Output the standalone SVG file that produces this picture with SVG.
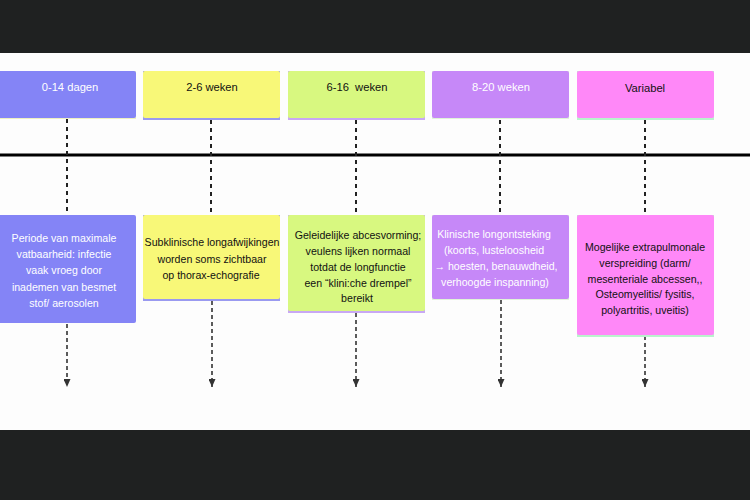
<svg xmlns="http://www.w3.org/2000/svg" width="750" height="500" viewBox="0 0 750 500">
<defs>
<style>
.band{fill:#1f2121}
.hd{font-family:"Liberation Sans",Arial,sans-serif;font-size:11.2px;text-anchor:middle}
.bd{font-family:"Liberation Sans",Arial,sans-serif;font-size:10.6px;text-anchor:middle}
.w{fill:#ffffff}
.k{fill:#111111}
.dash{stroke:#222;stroke-width:2;stroke-dasharray:4 4;fill:none}
.dash2{stroke:#333;stroke-width:1.6;stroke-dasharray:4 3;fill:none}
</style>
<marker id="ah" viewBox="0 0 10 10" refX="10" refY="5" markerWidth="8" markerHeight="7" markerUnits="userSpaceOnUse" orient="auto" preserveAspectRatio="none">
<path d="M0,0 L10,5 L0,10 Z" fill="#333"/>
</marker>
</defs>
<rect x="0" y="0" width="750" height="500" fill="#fdfdfd"/>
<rect class="band" x="0" y="0" width="750" height="53"/>
<rect class="band" x="0" y="430" width="750" height="70"/>

<g id="connectors">
<line x1="0" y1="155" x2="750" y2="155" stroke="#000" stroke-width="3"/>
<line class="dash" x1="67" y1="119" x2="67" y2="215"/>
<line class="dash" x1="211" y1="120" x2="211" y2="215"/>
<line class="dash" x1="356" y1="120" x2="356" y2="215"/>
<line class="dash" x1="500" y1="120" x2="500" y2="215"/>
<line class="dash" x1="645" y1="120" x2="645" y2="215"/>
<line class="dash2" x1="67" y1="324" x2="67" y2="387" marker-end="url(#ah)"/>
<line class="dash2" x1="212" y1="301" x2="212" y2="387" marker-end="url(#ah)"/>
<line class="dash2" x1="356" y1="313" x2="356" y2="387" marker-end="url(#ah)"/>
<line class="dash2" x1="501" y1="300" x2="501" y2="387" marker-end="url(#ah)"/>
<line class="dash2" x1="645" y1="336" x2="645" y2="387" marker-end="url(#ah)"/>
</g>

<g id="h1">
<rect x="0" y="71" width="136" height="48" fill="#eef0c0"/>
<rect x="-3" y="71" width="139" height="47" rx="2" fill="#8484f6"/>
<text class="hd w" x="70" y="90.5">0-14 dagen</text>
</g>
<g id="h2">
<rect x="143" y="71" width="137" height="49" fill="#9a9af0"/>
<rect x="143" y="71" width="137" height="47" rx="2" fill="#f8f878"/>
<text class="hd k" x="212" y="90.5">2-6 weken</text>
</g>
<g id="h3">
<rect x="288" y="71" width="137" height="49" fill="#c8a8f4"/>
<rect x="288" y="71" width="137" height="47" rx="2" fill="#d8f880"/>
<text class="hd k" x="357" y="90.5" xml:space="preserve">6-16  weken</text>
</g>
<g id="h4">
<rect x="432" y="71" width="137" height="48" fill="#e0f4d8"/>
<rect x="432" y="71" width="137" height="47" rx="2" fill="#c688f8"/>
<text class="hd w" x="501" y="90.5">8-20 weken</text>
</g>
<g id="h5">
<rect x="577" y="71" width="137" height="49" fill="#b8f4cc"/>
<rect x="577" y="71" width="137" height="47" rx="2" fill="#ff88f8"/>
<text class="hd k" x="645" y="92">Variabel</text>
</g>

<g id="b1">
<rect x="-3" y="215" width="139" height="108" rx="2" fill="#8484f6"/>
<text class="bd w" x="64"><tspan x="64" y="242">Periode van maximale</tspan><tspan x="64" y="258">vatbaarheid: infectie</tspan><tspan x="64" y="274">vaak vroeg door</tspan><tspan x="64" y="290.5">inademen van besmet</tspan><tspan x="64" y="307">stof/ aerosolen</tspan></text>
</g>
<g id="b2">
<rect x="143" y="215" width="137" height="86" fill="#9a9af0"/>
<rect x="143" y="215" width="137" height="84" rx="2" fill="#f8f878"/>
<text class="bd k"><tspan x="212" y="246">Subklinische longafwijkingen</tspan><tspan x="212" y="262.5">worden soms zichtbaar</tspan><tspan x="211" y="279">op thorax-echografie</tspan></text>
</g>
<g id="b3">
<rect x="288" y="215" width="137" height="98" fill="#c8a8f4"/>
<rect x="288" y="215" width="137" height="96" rx="2" fill="#d8f880"/>
<text class="bd k"><tspan x="358" y="239">Geleidelijke abcesvorming;</tspan><tspan x="358" y="255">veulens lijken normaal</tspan><tspan x="358" y="271">totdat de longfunctie</tspan><tspan x="358" y="286.5">een “klini:che drempel”</tspan><tspan x="357" y="302">bereikt</tspan></text>
</g>
<g id="b4">
<rect x="432" y="215" width="137" height="85" fill="#e0f4d8"/>
<rect x="432" y="215" width="137" height="84" rx="2" fill="#c688f8"/>
<text class="bd w"><tspan x="494" y="238">Klinische longontsteking</tspan><tspan x="494" y="254">(koorts, lusteloosheid</tspan><tspan x="496" y="270">→ hoesten, benauwdheid,</tspan><tspan x="495" y="286">verhoogde inspanning)</tspan></text>
</g>
<g id="b5">
<rect x="577" y="215" width="137" height="122" fill="#b8f4cc"/>
<rect x="577" y="215" width="137" height="120" rx="2" fill="#ff88f8"/>
<text class="bd k"><tspan x="645" y="251">Mogelijke extrapulmonale</tspan><tspan x="645" y="267">verspreiding (darm/</tspan><tspan x="645" y="282.5">mesenteriale abcessen,,</tspan><tspan x="645" y="298">Osteomyelitis/ fysitis,</tspan><tspan x="645" y="314">polyartritis, uveitis)</tspan></text>
</g>
</svg>
